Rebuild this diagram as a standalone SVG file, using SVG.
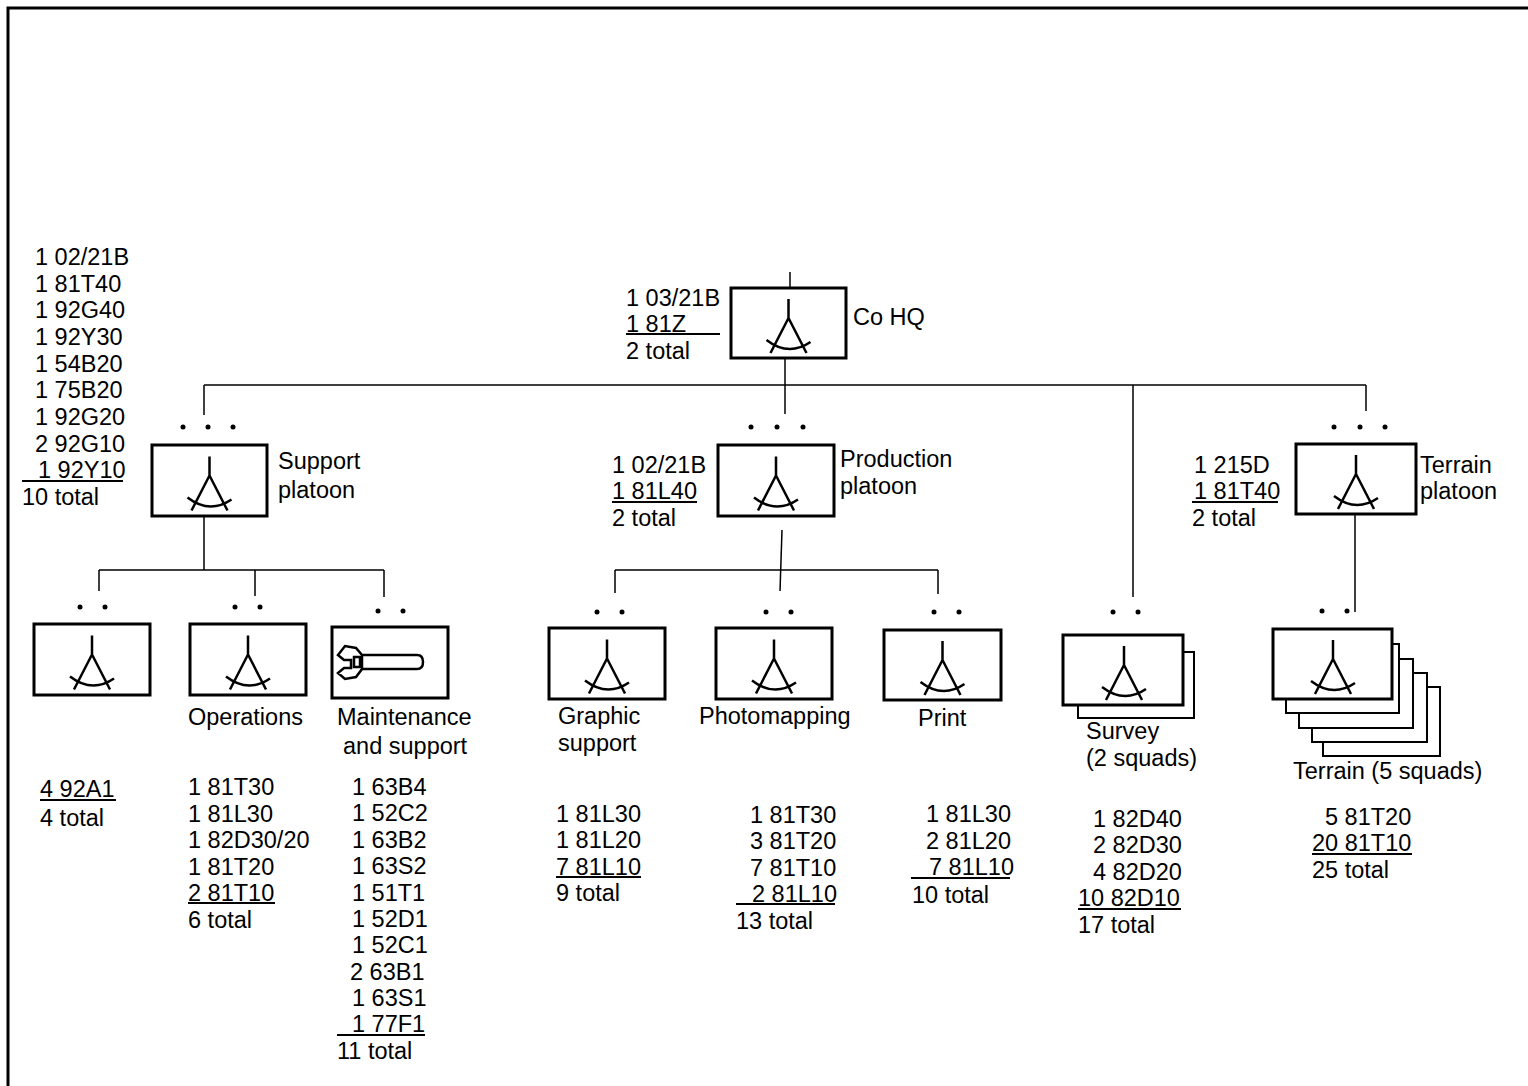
<svg xmlns="http://www.w3.org/2000/svg" xmlns:xlink="http://www.w3.org/1999/xlink" width="1528" height="1086" viewBox="0 0 1528 1086">
<style>
text{font-family:"Liberation Sans",Arial,sans-serif;font-size:23.5px;fill:#000}
.box{fill:#fff;stroke:#000;stroke-width:3}
.bk{fill:#fff;stroke:#000;stroke-width:2}
.ln{stroke:#000;stroke-width:1.5;fill:none}
.ul{stroke:#000;stroke-width:2;fill:none}
.cmp{fill:none;stroke:#000;stroke-width:2.5}
.dot{fill:#000}
</style>
<defs>
<g id="cmp" class="cmp"><path d="M0,-24 V-5 M0,-5 L-18,30 M0,-5 L18,30 M-22,17 Q0,34 22,19"/></g>
</defs>
<rect width="1528" height="1086" fill="#fff"/>
<path d="M8,1086 V8 H1528" fill="none" stroke="#000" stroke-width="3"/>

<g id="connectors" class="ln">
<path d="M790,272 V288"/>
<path d="M785,358 V414"/>
<path d="M204,385 H1366"/>
<path d="M204,385 V415"/>
<path d="M204,516 V570"/>
<path d="M99,570 H384 M99,570 V591 M255,570 V596 M384,570 V597"/>
<path d="M782,530 L780,591"/>
<path d="M615,570 H938 M615,570 V593 M938,570 V594"/>
<path d="M1133,385 V597"/>
<path d="M1366,385 V411"/>
<path d="M1355,514 V612"/>
</g>

<g id="cohq">
<rect class="box" x="731" y="288" width="115" height="70"/>
<use xlink:href="#cmp" href="#cmp" x="788.5" y="323"/>
<text x="853" y="325">Co HQ</text>
<text x="626" y="306">1 03/21B</text>
<text x="626" y="332">1 81Z</text>
<path class="ul" d="M626,334 H720"/>
<text x="626" y="359">2 total</text>
</g>

<g id="support-platoon">
<circle class="dot" cx="183" cy="427" r="2.5"/><circle class="dot" cx="208" cy="427" r="2.5"/><circle class="dot" cx="233" cy="427" r="2.5"/>
<rect class="box" x="152" y="445" width="115" height="71"/>
<use xlink:href="#cmp" href="#cmp" x="209.5" y="480.5"/>
<text x="278" y="469">Support</text>
<text x="278" y="498">platoon</text>
<text x="35" y="265">1 02/21B</text>
<text x="35" y="292">1 81T40</text>
<text x="35" y="318">1 92G40</text>
<text x="35" y="345">1 92Y30</text>
<text x="35" y="372">1 54B20</text>
<text x="35" y="398">1 75B20</text>
<text x="35" y="425">1 92G20</text>
<text x="35" y="452">2 92G10</text>
<text x="38" y="478">1 92Y10</text>
<path class="ul" d="M22,481 H123"/>
<text x="22" y="505">10 total</text>
</g>

<g id="production-platoon">
<circle class="dot" cx="751" cy="427" r="2.5"/><circle class="dot" cx="777" cy="427" r="2.5"/><circle class="dot" cx="803" cy="427" r="2.5"/>
<rect class="box" x="718" y="445" width="116" height="71"/>
<use xlink:href="#cmp" href="#cmp" x="776" y="480.5"/>
<text x="840" y="467">Production</text>
<text x="840" y="494">platoon</text>
<text x="612" y="473">1 02/21B</text>
<text x="612" y="499">1 81L40</text>
<path class="ul" d="M612,502 H697"/>
<text x="612" y="526">2 total</text>
</g>

<g id="terrain-platoon">
<circle class="dot" cx="1334" cy="427" r="2.5"/><circle class="dot" cx="1360" cy="427" r="2.5"/><circle class="dot" cx="1385" cy="427" r="2.5"/>
<rect class="box" x="1296" y="444" width="120" height="70"/>
<use xlink:href="#cmp" href="#cmp" x="1356" y="479"/>
<text x="1420" y="473">Terrain</text>
<text x="1420" y="499">platoon</text>
<text x="1194" y="473">1 215D</text>
<text x="1194" y="499">1 81T40</text>
<path class="ul" d="M1192,502 H1278"/>
<text x="1192" y="526">2 total</text>
</g>

<g id="hq-section">
<circle class="dot" cx="80" cy="607" r="2.5"/><circle class="dot" cx="105" cy="607" r="2.5"/>
<rect class="box" x="34" y="624" width="116" height="71"/>
<use xlink:href="#cmp" href="#cmp" x="92" y="659.5"/>
<text x="40" y="797">4 92A1</text>
<path class="ul" d="M40,800 H116"/>
<text x="40" y="826">4 total</text>
</g>

<g id="operations">
<circle class="dot" cx="235" cy="607" r="2.5"/><circle class="dot" cx="260" cy="607" r="2.5"/>
<rect class="box" x="190" y="624" width="116" height="71"/>
<use xlink:href="#cmp" href="#cmp" x="248" y="659.5"/>
<text x="188" y="725">Operations</text>
<text x="188" y="795">1 81T30</text>
<text x="188" y="821.5">1 81L30</text>
<text x="188" y="848">1 82D30/20</text>
<text x="188" y="874.5">1 81T20</text>
<text x="188" y="900.5">2 81T10</text>
<path class="ul" d="M188,903 H275"/>
<text x="188" y="927.5">6 total</text>
</g>

<g id="maintenance">
<circle class="dot" cx="378" cy="611" r="2.5"/><circle class="dot" cx="403" cy="611" r="2.5"/>
<rect class="box" x="332" y="627" width="116" height="71"/>
<path class="cmp" stroke-width="2" d="M362,655 L356,648 L345,646 L338,655 L344,660 L351,660 L351,668 L344,668 L338,673 L345,679 L356,677 L362,669 Z M362,655 H417 Q423,655 423,662 Q423,669 417,669 H362 M354,657 H360 V667 H354 Z"/>
<text x="337" y="725">Maintenance</text>
<text x="343" y="754">and support</text>
<text x="352" y="795">1 63B4</text>
<text x="352" y="821.4">1 52C2</text>
<text x="352" y="847.8">1 63B2</text>
<text x="352" y="874.2">1 63S2</text>
<text x="352" y="900.6">1 51T1</text>
<text x="352" y="927">1 52D1</text>
<text x="352" y="953.4">1 52C1</text>
<text x="350" y="979.8">2 63B1</text>
<text x="352" y="1006.2">1 63S1</text>
<text x="352" y="1032">1 77F1</text>
<path class="ul" d="M337,1035 H425"/>
<text x="337" y="1059">11 total</text>
</g>

<g id="graphic-support">
<circle class="dot" cx="597" cy="612" r="2.5"/><circle class="dot" cx="622" cy="612" r="2.5"/>
<rect class="box" x="549" y="628" width="116" height="71"/>
<use xlink:href="#cmp" href="#cmp" x="607" y="663.5"/>
<text x="558" y="724">Graphic</text>
<text x="558" y="751">support</text>
<text x="556" y="821.5">1 81L30</text>
<text x="556" y="848">1 81L20</text>
<text x="556" y="874.5">7 81L10</text>
<path class="ul" d="M556,877 H641"/>
<text x="556" y="901">9 total</text>
</g>

<g id="photomapping">
<circle class="dot" cx="766" cy="612" r="2.5"/><circle class="dot" cx="791" cy="612" r="2.5"/>
<rect class="box" x="716" y="628" width="116" height="71"/>
<use xlink:href="#cmp" href="#cmp" x="774" y="663.5"/>
<text x="699" y="724">Photomapping</text>
<text x="750" y="822.5">1 81T30</text>
<text x="750" y="849">3 81T20</text>
<text x="750" y="875.5">7 81T10</text>
<text x="752" y="901.5">2 81L10</text>
<path class="ul" d="M736,904 H835"/>
<text x="736" y="928.5">13 total</text>
</g>

<g id="print">
<circle class="dot" cx="934" cy="612" r="2.5"/><circle class="dot" cx="959" cy="612" r="2.5"/>
<rect class="box" x="884" y="630" width="117" height="70"/>
<use xlink:href="#cmp" href="#cmp" x="942.5" y="665"/>
<text x="918" y="726">Print</text>
<text x="926" y="822">1 81L30</text>
<text x="926" y="848.5">2 81L20</text>
<text x="929" y="875">7 81L10</text>
<path class="ul" d="M911,878 H1010"/>
<text x="912" y="903">10 total</text>
</g>

<g id="survey">
<circle class="dot" cx="1113" cy="612" r="2.5"/><circle class="dot" cx="1138" cy="612" r="2.5"/>
<rect class="bk" x="1078" y="652" width="116" height="66"/>
<rect class="box" x="1063" y="635" width="120" height="70"/>
<use xlink:href="#cmp" href="#cmp" x="1124" y="670"/>
<text x="1086" y="739">Survey</text>
<text x="1086" y="766">(2 squads)</text>
<text x="1093" y="826.5">1 82D40</text>
<text x="1093" y="853">2 82D30</text>
<text x="1093" y="879.5">4 82D20</text>
<text x="1078" y="906">10 82D10</text>
<path class="ul" d="M1078,909 H1181"/>
<text x="1078" y="932.5">17 total</text>
</g>

<g id="terrain-squads">
<circle class="dot" cx="1322" cy="611" r="2.5"/><circle class="dot" cx="1347" cy="611" r="2.5"/>
<rect class="bk" x="1323" y="687" width="117" height="69"/>
<rect class="bk" x="1312" y="673" width="115" height="69"/>
<rect class="bk" x="1299" y="659" width="114" height="69"/>
<rect class="bk" x="1286" y="644" width="113" height="69"/>
<rect class="box" x="1273" y="629" width="119" height="70"/>
<use xlink:href="#cmp" href="#cmp" x="1333" y="664"/>
<text x="1293" y="779">Terrain (5 squads)</text>
<text x="1325" y="824.5">5 81T20</text>
<text x="1312" y="851">20 81T10</text>
<path class="ul" d="M1312,854 H1412"/>
<text x="1312" y="877.5">25 total</text>
</g>
</svg>
